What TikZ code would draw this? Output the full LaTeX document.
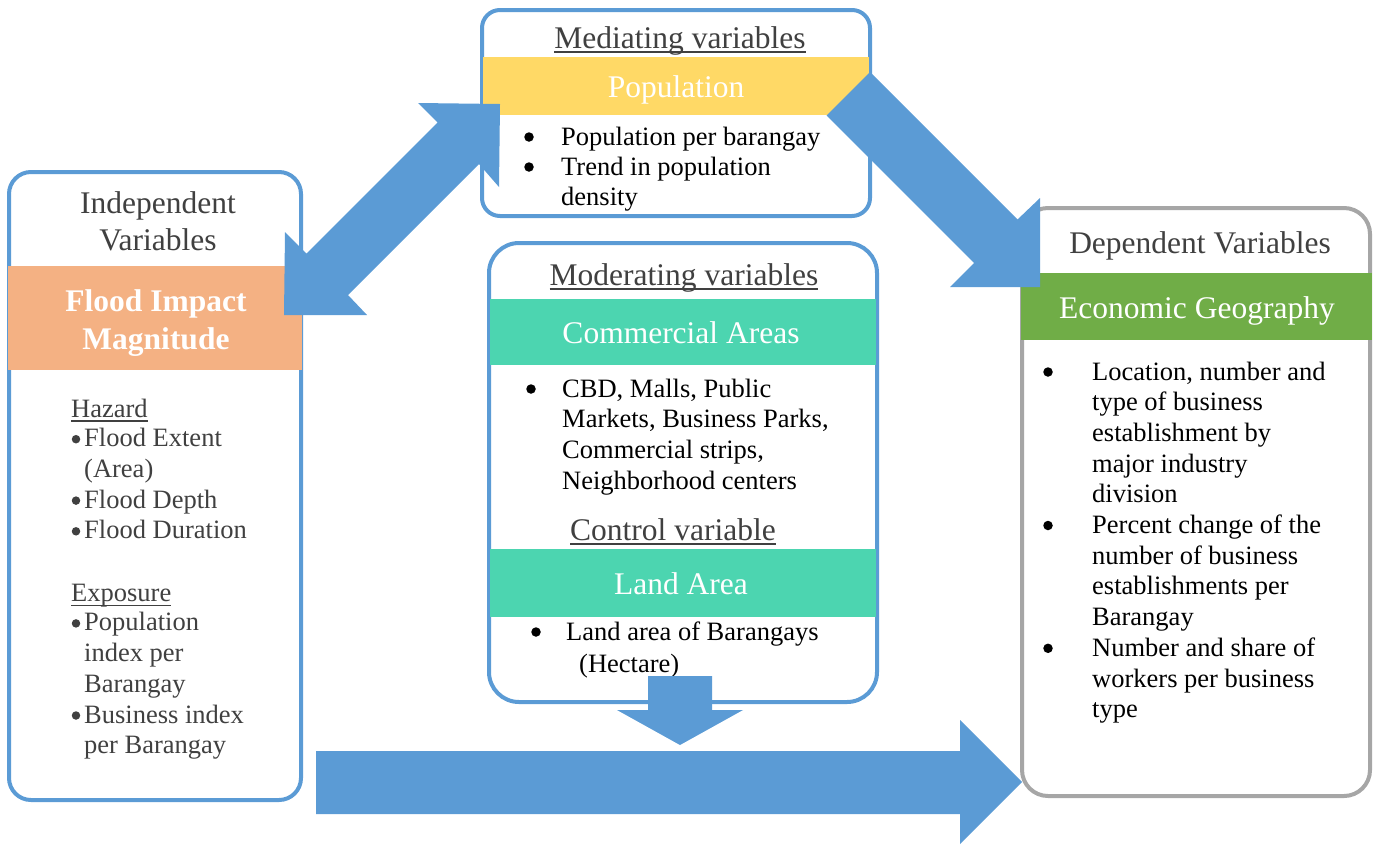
\documentclass[tikz,border=0pt]{standalone}
\usepackage{fontspec}
\setmainfont{Liberation Serif}
\definecolor{arrowblue}{HTML}{5B9BD5}
\definecolor{boxgray}{HTML}{A6A6A6}
\definecolor{txtgray}{HTML}{404040}
\definecolor{bandorange}{HTML}{F4B183}
\definecolor{bandyellow}{HTML}{FFD966}
\definecolor{bandteal}{HTML}{4CD5B0}
\definecolor{bandgreen}{HTML}{70AD47}
\begin{document}
\begin{tikzpicture}[x=1pt,y=-1pt,
  bigf/.style={font=\fontsize{31.5}{37}\selectfont},
  smf/.style={font=\fontsize{26.5}{30.7}\selectfont},
  lbl/.style={inner sep=0pt,anchor=base},
  lw/.style={inner sep=0pt,anchor=base west},
  dot/.style={circle,fill=black,inner sep=0pt,minimum size=9.5pt},
  gdot/.style={circle,fill=txtgray,inner sep=0pt,minimum size=8.5pt},
  bluebox/.style={draw=arrowblue,line width=4pt,fill=white},
  graybox/.style={draw=boxgray,line width=4pt,fill=white},
  ul/.style={line width=1.4pt},
  blockarrow/.style={fill=arrowblue}]
\useasboundingbox (0,0) rectangle (1375,844);

% ---------- boxes ----------
\draw[bluebox,rounded corners=22pt] (9,172) rectangle (301,800);
\fill[bandorange] (8,266) rectangle (302,370);

\draw[bluebox,rounded corners=18pt] (482,10) rectangle (870,216);
\fill[bandyellow] (483,57) rectangle (869,115);

\draw[bluebox,rounded corners=30pt] (489,243) rectangle (877,702);
\fill[bandteal] (490,299) rectangle (876,365);
\fill[bandteal] (490,549) rectangle (876,617);

\draw[graybox,rounded corners=26pt] (1022,208) rectangle (1370,796);
\fill[bandgreen] (1021,273) rectangle (1372,340);

% ---------- independent ----------
\node[lbl,bigf,text=txtgray] (indA) at (158,213) {Independent};
\node[lbl,bigf,text=txtgray] (indB) at (158,250) {Variables};
\node[lbl,bigf,text=white] (fimA) at (156,311) {\textbf{Flood Impact}};
\node[lbl,bigf,text=white] (fimB) at (156,349) {\textbf{Magnitude}};

\begin{scope}[smf,text=txtgray]
\node[lw] (haz) at (71,417) {Hazard};
\draw[ul,txtgray] ([yshift=-4pt]haz.base west) -- ([yshift=-4pt]haz.base east);
\node[gdot] (lb1) at (76,439.2) {};
\node[lw] (l1) at (84,446.7) {Flood Extent};
\node[lw] (l2) at (84,477.4) {(Area)};
\node[gdot] (lb3) at (76,500.6) {};
\node[lw] (l3) at (84,508.1) {Flood Depth};
\node[gdot] (lb4) at (76,531.3) {};
\node[lw] (l4) at (84,538.8) {Flood Duration};
\node[lw] (exp) at (71,601.2) {Exposure};
\draw[ul,txtgray] ([yshift=-4pt]exp.base west) -- ([yshift=-4pt]exp.base east);
\node[gdot] (lb7) at (76,623.4) {};
\node[lw] (l7) at (84,630.9) {Population};
\node[lw] (l8) at (84,661.6) {index per};
\node[lw] (l9) at (84,692.3) {Barangay};
\node[gdot] (lb10) at (76,715.5) {};
\node[lw] (l10) at (84,723) {Business index};
\node[lw] (l11) at (84,753.7) {per Barangay};
\end{scope}

% ---------- mediating ----------
\node[lbl,bigf,text=txtgray] (medT) at (680,48) {Mediating variables};
\draw[ul,txtgray] ([yshift=-4pt]medT.base west) -- ([yshift=-4pt]medT.base east);
\node[lbl,bigf,text=white] (popT) at (676,97) {Population};
\begin{scope}[smf]
\node[dot] (mb1) at (529,137) {};
\node[lw] (m1) at (561,145) {Population per barangay};
\node[dot] (mb2) at (529,167) {};
\node[lw] (m2) at (561,175) {Trend in population};
\node[lw] (m3) at (561,205) {density};
\end{scope}

% ---------- moderating ----------
\node[lbl,bigf,text=txtgray] (modT) at (684,285) {Moderating variables};
\draw[ul,txtgray] ([yshift=-4pt]modT.base west) -- ([yshift=-4pt]modT.base east);
\node[lbl,bigf,text=white] (comT) at (681,343) {Commercial Areas};
\begin{scope}[smf]
\node[dot] (cb1) at (531,389) {};
\node[lw] (c1) at (562,397) {CBD, Malls, Public};
\node[lw] (c2) at (562,427.7) {Markets, Business Parks,};
\node[lw] (c3) at (562,458.4) {Commercial strips,};
\node[lw] (c4) at (562,489.1) {Neighborhood centers};
\end{scope}
\node[lbl,bigf,text=txtgray] (conT) at (673,540) {Control variable};
\draw[ul,txtgray] ([yshift=-4pt]conT.base west) -- ([yshift=-4pt]conT.base east);
\node[lbl,bigf,text=white] (landT) at (681,594) {Land Area};
\begin{scope}[smf]
\node[dot] (lab1) at (536,632) {};
\node[lw] (la1) at (566,640) {Land area of Barangays};
\node[lw] (la2) at (579,672) {(Hectare)};
\end{scope}

% ---------- dependent ----------
\node[lbl,bigf,text=txtgray] (depT) at (1200,253) {Dependent Variables};
\node[lbl,bigf,text=white] (ecoT) at (1197,318) {Economic Geography};
\begin{scope}[smf]
\node[dot] (db1) at (1048,372) {};
\node[lw] (d1) at (1092,380) {Location, number and};
\node[lw] (d2) at (1092,410.7) {type of business};
\node[lw] (d3) at (1092,441.4) {establishment by};
\node[lw] (d4) at (1092,472.1) {major industry};
\node[lw] (d5) at (1092,502.8) {division};
\node[dot] (db6) at (1048,525.5) {};
\node[lw] (d6) at (1092,533.5) {Percent change of the};
\node[lw] (d7) at (1092,564.2) {number of business};
\node[lw] (d8) at (1092,594.9) {establishments per};
\node[lw] (d9) at (1092,625.6) {Barangay};
\node[dot] (db10) at (1048,648.3) {};
\node[lw] (d10) at (1092,656.3) {Number and share of};
\node[lw] (d11) at (1092,687) {workers per business};
\node[lw] (d12) at (1092,717.7) {type};
\end{scope}

% ---------- block arrows ----------
% double arrow between independent and mediating
\fill[blockarrow] (500,104) -- (418,103) -- (437.5,122.5) -- (306.5,253.5) -- (285,232)
  -- (284,315) -- (367,315) -- (348,295) -- (479,164) -- (499,187) -- cycle;
% mediating to dependent
\fill[blockarrow] (870,72) -- (1017.5,219.5) -- (1040,198) -- (1040,287) -- (950,287)
  -- (974,263) -- (826.5,115.5) -- cycle;
% down arrow from moderating
\fill[blockarrow] (648,676) -- (712,676) -- (712,710) -- (743,710) -- (680,745)
  -- (617,710) -- (648,710) -- cycle;
% big arrow independent to dependent
\fill[blockarrow] (316,751) -- (960,751) -- (960,720) -- (1022,782) -- (960,844)
  -- (960,814) -- (316,814) -- cycle;
\end{tikzpicture}
\end{document}
